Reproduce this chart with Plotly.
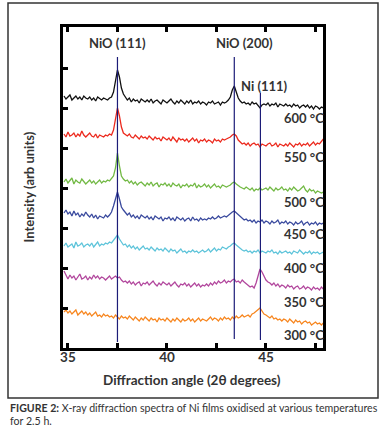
import numpy as np
import plotly.graph_objects as go

# 2-theta grid (degrees)
two_theta = [round(34.8 + 0.1 * i, 1) for i in range(132)]

temperatures = ["600 °C", "550 °C", "500 °C", "450 °C", "400 °C", "350 °C", "300 °C"]
offsets = [24.0, 20.3, 15.6, 12.4, 9.4, 6.0, 2.4]

i600 = [1.2, 0.9,
        1.1, 1.3, 0.8, 1.0, 1.2, 0.9, 1.1, 0.8, 1.2, 1.0,
        0.9, 1.1, 0.8, 1.0, 0.7, 1.1, 0.9, 0.8, 1.0, 0.9,
        0.8, 1.0, 1.1, 1.6, 2.6, 3.8, 3.1, 2.0, 1.4, 1.1,
        0.8, 1.0, 0.6, 0.9, 0.7, 0.8, 0.5, 0.9, 0.7, 0.6,
        0.8, 0.6, 0.9, 0.5, 0.7, 0.8, 0.6, 0.4, 0.8, 0.6,
        0.5, 0.7, 0.9, 0.6, 0.4, 0.7, 0.5, 0.8, 0.6, 0.4,
        0.7, 0.5, 0.8, 0.4, 0.6, 0.5, 0.7, 0.4, 0.6, 0.5,
        0.3, 0.6, 0.5, 0.7, 0.4, 0.5, 0.6, 0.3, 0.6, 0.5,
        0.6, 0.8, 1.1, 1.8, 2.2, 1.6, 1.0, 0.7, 0.5, 0.6,
        0.4, 0.5, 0.3, 0.6, 0.4, 0.5, 0.2, 0.0, 0.3, 0.4,
        0.3, 0.5, 0.2, 0.4, 0.3, 0.5, 0.1, 0.4, 0.3, 0.2,
        0.4, 0.2, 0.3, 0.1, 0.4, 0.2, 0.3, 0.0, 0.2, 0.3,
        0.1, 0.3, 0.0, 0.2, -0.1, 0.2, 0.1, -0.1, 0.1, 0.0]

i550 = [1.1, 0.8,
        1.3, 0.9, 1.0, 1.2, 0.8, 1.1, 0.9, 1.4, 1.0, 0.8,
        1.0, 1.2, 0.9, 0.8, 1.1, 0.7, 1.0, 0.9, 0.8, 1.0,
        0.9, 1.1, 1.0, 1.5, 2.6, 3.7, 2.9, 1.8, 1.2, 1.0,
        0.9, 1.1, 0.8, 0.7, 1.0, 0.8, 0.6, 0.9, 0.7, 0.8,
        0.6, 0.9, 0.7, 0.5, 0.8, 0.6, 0.7, 0.4, 0.8, 0.6,
        0.5, 0.7, 0.4, 0.8, 0.6, 0.3, 0.7, 0.5, 0.6, 0.4,
        0.6, 0.3, 0.5, 0.7, 0.4, 0.6, 0.2, 0.5, 0.4, 0.6,
        0.3, 0.5, 0.4, 0.2, 0.6, 0.4, 0.5, 0.3, 0.6, 0.5,
        0.6, 0.7, 0.8, 1.0, 1.1, 0.9, 0.5, 0.3, 0.1, 0.2,
        0.0, 0.2, -0.1, 0.1, 0.2, 0.0, 0.1, -0.2, 0.1, 0.0,
        -0.1, 0.1, 0.2, -0.1, 0.0, 0.2, -0.2, 0.1, 0.0, -0.1,
        0.1, -0.1, 0.2, 0.0, -0.2, 0.1, 0.0, 0.2, -0.1, 0.1,
        0.0, 0.2, -0.1, 0.1, 0.3, 0.0, 0.2, 0.1, 0.3, 0.6]

i500 = [1.0, 1.3,
        0.9, 1.1, 1.4, 0.8, 1.2, 1.0, 0.9, 1.3, 1.1, 0.8,
        1.0, 1.2, 0.9, 1.1, 0.8, 1.0, 1.2, 0.9, 1.1, 1.0,
        1.2, 1.1, 1.4, 1.6, 2.4, 3.9, 2.6, 1.6, 1.3, 1.1,
        1.2, 0.9, 1.1, 0.8, 1.0, 0.7, 0.9, 1.0, 0.8, 0.6,
        0.9, 0.7, 1.0, 0.6, 0.8, 0.9, 0.5, 0.8, 0.7, 0.9,
        0.6, 0.8, 0.5, 0.9, 0.7, 0.6, 0.8, 0.4, 0.7, 0.6,
        0.8, 0.5, 0.7, 0.6, 0.9, 0.4, 0.7, 0.5, 0.6, 0.8,
        0.5, 0.7, 0.4, 0.6, 0.8, 0.5, 0.6, 0.4, 0.7, 0.6,
        0.5, 0.6, 0.7, 0.9, 1.0, 0.8, 0.6, 0.5, 0.4, 0.3,
        0.5, 0.3, 0.2, 0.4, 0.1, 0.3, 0.2, 0.4, 0.2, 0.3,
        0.4, 0.2, 0.5, 0.3, 0.1, 0.4, 0.2, 0.3, 0.5, 0.2,
        0.3, 0.1, 0.4, 0.2, 0.5, 0.3, 0.1, 0.2, 0.4, 0.6,
        0.2, 0.0, 0.3, 0.1, 0.2, -0.1, 0.1, 0.0, -0.1, 0.0]

i450 = [1.1, 1.4,
        1.0, 1.2, 0.8, 1.3, 0.9, 1.1, 0.7, 1.0, 0.8, 1.2,
        0.9, 0.7, 1.0, 0.6, 0.9, 0.5, 0.8, 0.7, 0.6, 0.9,
        0.7, 0.9, 1.2, 1.8, 2.6, 3.2, 2.5, 1.7, 1.4, 1.1,
        0.9, 1.1, 0.7, 0.9, 0.6, 0.8, 0.5, 0.9, 0.7, 0.6,
        0.8, 0.5, 0.7, 0.4, 0.8, 0.6, 0.5, 0.7, 0.3, 0.6,
        0.5, 0.7, 0.4, 0.6, 0.3, 0.7, 0.5, 0.4, 0.6, 0.3,
        0.5, 0.6, 0.3, 0.7, 0.4, 0.5, 0.3, 0.6, 0.4, 0.5,
        0.4, 0.6, 0.5, 0.7, 0.5, 0.6, 0.8, 0.6, 0.7, 0.8,
        0.7, 0.9, 1.0, 1.2, 1.3, 1.1, 0.9, 0.7, 0.6, 0.4,
        0.5, 0.3, 0.4, 0.2, 0.4, 0.1, 0.3, 0.2, 0.4, 0.1,
        0.3, 0.2, 0.0, 0.3, 0.1, 0.2, 0.4, 0.0, 0.2, 0.1,
        0.3, 0.0, 0.2, 0.1, -0.1, 0.2, 0.0, 0.1, 0.3, -0.1,
        0.1, 0.2, -0.1, 0.1, 0.0, 0.2, -0.1, 0.1, 0.0, 0.1]

i400 = [0.8, 1.1,
        0.7, 0.9, 1.0, 0.6, 1.2, 0.8, 0.9, 1.1, 0.7, 0.9,
        1.0, 0.8, 1.1, 0.7, 0.9, 1.2, 0.8, 1.0, 0.9, 1.1,
        1.0, 1.2, 1.1, 1.4, 1.6, 1.9, 1.5, 1.2, 0.9, 1.0,
        0.7, 0.9, 0.6, 0.8, 0.5, 0.7, 0.4, 0.6, 0.8, 0.5,
        0.6, 0.4, 0.7, 0.5, 0.3, 0.6, 0.4, 0.5, 0.3, 0.6,
        0.4, 0.2, 0.5, 0.3, 0.4, 0.1, 0.3, 0.5, 0.2, 0.3,
        0.1, 0.3, 0.2, 0.4, 0.2, 0.3, 0.1, 0.3, 0.4, 0.2,
        0.3, 0.5, 0.2, 0.4, 0.6, 0.3, 0.5, 0.4, 0.7, 0.6,
        0.5, 0.7, 0.8, 1.0, 1.1, 0.9, 0.7, 0.5, 0.4, 0.3,
        0.4, 0.2, 0.3, 0.1, 0.3, 0.2, 0.4, 0.1, 0.3, 0.2,
        0.1, 0.3, 0.2, 0.4, 0.1, 0.2, 0.0, 0.3, 0.1, 0.2,
        0.3, 0.1, 0.2, 0.0, 0.3, 0.2, 0.1, 0.4, 0.2, 0.0,
        0.2, 0.1, 0.3, 0.0, 0.2, 0.1, 0.2, 0.0, 0.1, 0.2]

i350 = [1.7, 1.2,
        0.9, 1.3, 1.0, 1.2, 0.8, 1.1, 1.4, 0.9, 1.0, 1.2,
        0.8, 1.1, 0.9, 1.3, 1.0, 1.2, 0.9, 1.1, 1.0, 0.8,
        1.0, 1.2, 0.9, 1.1, 1.2, 1.0, 1.1, 0.8, 0.6, 0.7,
        0.5, 0.7, 0.4, 0.6, 0.3, 0.5, 0.6, 0.2, 0.5, 0.4,
        0.6, 0.3, 0.5, 0.7, 0.4, 0.2, 0.5, 0.3, 0.6, 0.4,
        0.3, 0.5, 0.2, 0.4, 0.6, 0.3, 0.1, 0.4, 0.3, 0.5,
        0.2, 0.4, 0.1, 0.3, 0.5, 0.2, 0.4, 0.1, 0.3, 0.2,
        0.4, 0.2, 0.5, 0.3, 0.6, 0.4, 0.7, 0.5, 0.6, 0.8,
        0.5, 0.7, 0.6, 0.8, 0.9, 0.6, 0.7, 0.5, 0.8, 0.6,
        0.4, 0.3, 0.1, 0.2, 0.0, 0.5, 1.2, 1.9, 1.6, 1.1,
        0.8, 0.6, 0.5, 0.3, 0.5, 0.2, 0.4, 0.1, 0.3, 0.2,
        0.0, 0.3, 0.1, 0.2, -0.1, 0.1, 0.2, -0.1, 0.0, 0.2,
        -0.1, 0.1, 0.0, -0.2, 0.1, -0.1, 0.0, -0.2, 0.1, -0.1]

i300 = [1.2, 1.4,
        1.1, 1.3, 1.0, 1.2, 1.4, 0.9, 1.1, 1.3, 1.0, 1.2,
        0.9, 1.1, 0.8, 1.0, 1.2, 0.8, 0.9, 0.7, 1.0, 0.8,
        0.9, 0.7, 0.8, 0.6, 0.9, 0.7, 0.5, 0.8, 0.6, 0.7,
        0.5, 0.8, 0.6, 0.4, 0.7, 0.5, 0.3, 0.6, 0.4, 0.7,
        0.5, 0.3, 0.6, 0.4, 0.5, 0.2, 0.6, 0.4, 0.5, 0.3,
        0.6, 0.4, 0.2, 0.5, 0.3, 0.6, 0.4, 0.2, 0.5, 0.3,
        0.4, 0.6, 0.3, 0.5, 0.2, 0.4, 0.6, 0.3, 0.5, 0.4,
        0.3, 0.5, 0.7, 0.4, 0.6, 0.5, 0.3, 0.6, 0.4, 0.7,
        0.5, 0.6, 0.4, 0.7, 0.5, 0.8, 0.6, 0.7, 0.9, 0.7,
        0.8, 0.9, 0.7, 1.0, 1.1, 1.3, 1.4, 1.6, 1.3, 1.0,
        0.9, 0.7, 0.6, 0.8, 0.5, 0.6, 0.4, 0.5, 0.3, 0.5,
        0.4, 0.2, 0.5, 0.3, 0.1, 0.4, 0.2, 0.3, 0.0, 0.2,
        0.3, 0.1, 0.2, -0.1, 0.1, 0.2, 0.0, 0.1, -0.1, 0.1]

spectra = [i600, i550, i500, i450, i400, i350, i300]
colors = ["#111111", "#ec2a1e", "#72b944", "#3a4a9e", "#5ec4da", "#b2479d", "#f7861f"]
label_y = [23.0, 19.1, 14.6, 11.4, 8.0, 4.6, 1.3]

# reference peak markers
peak_names = ["NiO (111)", "NiO (200)", "Ni (111)"]
peak_pos = [37.5, 43.4, 44.72]
peak_top = [29.1, 29.1, 25.5]
peak_bottom = [0.6, 0.9, 0.8]
peak_label_x = [37.5, 43.9, 44.95]
peak_label_y = [30.5, 30.5, 26.2]

FONT = "Lato"
TXT = "#333333"

fig = go.Figure()
for name, base, ys, c in zip(temperatures, offsets, spectra, colors):
    fig.add_trace(go.Scatter(x=two_theta, y=[base + v for v in ys], mode="lines",
                             line=dict(color=c, width=1.3), name=name, showlegend=False))

for p, t, b in zip(peak_pos, peak_top, peak_bottom):
    fig.add_trace(go.Scatter(x=[p, p], y=[b, t], mode="lines",
                             line=dict(color="#1c1c78", width=1.2), showlegend=False))

ann = []
for n, x, y in zip(peak_names, peak_label_x, peak_label_y):
    ann.append(dict(x=x, y=y, xref="x", yref="y", text=n, showarrow=False,
                    xanchor="center", yanchor="middle",
                    font=dict(family=FONT, size=13, color=TXT, weight=700)))
for t, y in zip(temperatures, label_y):
    ann.append(dict(x=1.0, y=y, xref="paper", yref="y", text=t, showarrow=False,
                    xanchor="right", yanchor="middle", xshift=3,
                    font=dict(family=FONT, size=13, color=TXT, weight=700)))

ann.append(dict(x=(28 - 63) / 260, y=0.5, xref="paper", yref="paper", text="Intensity (arb units)",
                textangle=-90, showarrow=False, xanchor="center", yanchor="middle",
                font=dict(family=FONT, size=13, color=TXT, weight=700)))
ann.append(dict(x=(192 - 63) / 260, y=(348 - 380) / 321, xref="paper", yref="paper",
                xanchor="center", yanchor="middle",
                text="Diffraction angle (2θ degrees)", showarrow=False,
                font=dict(family=FONT, size=13.5, color=TXT, weight=700)))
ann.append(dict(x=(8 - 63) / 260, y=(348 - 408) / 321, xref="paper", yref="paper",
                xanchor="left", yanchor="middle",
                text="<b>FIGURE 2:</b> X-ray diffraction spectra of Ni films oxidised at various temperatures",
                showarrow=False, font=dict(family=FONT, size=10.6, color=TXT)))
ann.append(dict(x=(8 - 63) / 260, y=(348 - 421) / 321, xref="paper", yref="paper",
                xanchor="left", yanchor="middle",
                text="for 2.5 h.", showarrow=False, font=dict(family=FONT, size=10.6, color=TXT)))

fig.update_layout(
    width=382, height=431,
    margin=dict(l=63, r=59, t=27, b=83),
    paper_bgcolor="white", plot_bgcolor="white",
    annotations=ann,
    shapes=[dict(type="rect", xref="paper", yref="paper",
                 x0=(8 - 63) / 260, x1=(378 - 63) / 260,
                 y0=(348 - 398) / 321, y1=(348 - 3) / 321,
                 line=dict(color="#333333", width=1.5), layer="below")],
)
fig.update_xaxes(range=[34.75, 47.88], tickmode="array",
                 tickvals=[35, 37.5, 40, 42.5, 45, 47.5],
                 ticktext=["35", "", "40", "", "45", ""],
                 ticks="inside", ticklen=5, tickwidth=2.5, tickcolor="black",
                 showline=True, linecolor="black", linewidth=3, mirror="ticks",
                 showgrid=False, zeroline=False, ticklabelstandoff=-5,
                 tickfont=dict(family=FONT, size=13.5, color=TXT, weight=700))
fig.update_yaxes(range=[0, 32.1], tickmode="array", tickvals=[4, 8, 12, 16, 20, 24, 28, 32],
                 showticklabels=False, ticks="inside", ticklen=5, tickwidth=2.5, tickcolor="black",
                 showline=True, linecolor="black", linewidth=3, mirror=True,
                 showgrid=False, zeroline=False)

fig.write_html("out.html", config={"displayModeBar": False},
               post_script="document.body.style.margin='0';document.body.style.overflow='hidden';")
